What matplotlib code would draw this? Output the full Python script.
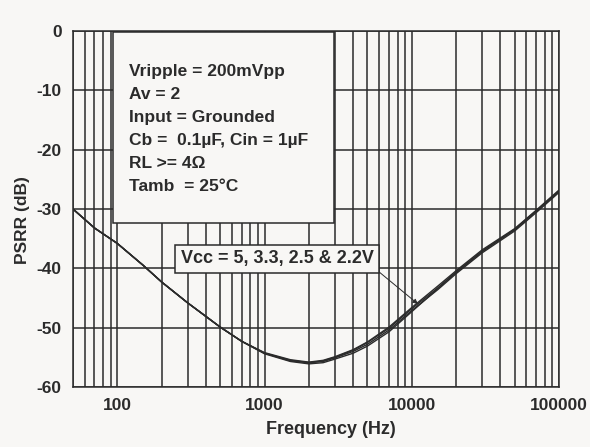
import numpy as np
import matplotlib.pyplot as plt
from matplotlib.patches import Rectangle

# PSRR vs frequency
freq = [50, 70, 100, 150, 200, 300, 500, 700, 1000, 1500, 2000, 2500,
        3000, 4000, 5000, 7000, 10000, 15000, 20000, 30000, 50000, 70000, 100000]
psrr_5v = [-30.0, -33.2, -35.8, -39.5, -42.3, -45.8, -49.9, -52.3, -54.3, -55.5, -55.9, -55.7,
           -55.1, -54.0, -52.8, -50.4, -47.1, -43.6, -40.9, -37.4, -33.7, -30.6, -27.2]
psrr_33v = [-30.0, -33.2, -35.8, -39.5, -42.3, -45.8, -49.9, -52.3, -54.4, -55.7, -56.1, -55.9,
            -55.3, -54.3, -53.1, -50.7, -47.3, -43.4, -40.7, -37.2, -33.5, -30.4, -27.0]
psrr_25v = [-30.0, -33.2, -35.8, -39.5, -42.3, -45.8, -49.9, -52.3, -54.3, -55.6, -55.9, -55.6,
            -55.0, -53.8, -52.5, -50.1, -46.8, -43.3, -40.6, -37.1, -33.4, -30.3, -26.9]
psrr_22v = [-30.0, -33.2, -35.8, -39.5, -42.3, -45.8, -49.9, -52.3, -54.2, -55.4, -55.8, -55.5,
            -54.9, -53.7, -52.4, -49.9, -46.6, -43.0, -40.4, -36.9, -33.3, -30.2, -26.8]

conditions = ["Vripple = 200mVpp", "Av = 2", "Input = Grounded",
              "Cb =  0.1\u00b5F, Cin = 1\u00b5F", "RL >= 4\u03a9", "Tamb  = 25\u00b0C"]
vcc_label = "Vcc = 5, 3.3, 2.5 & 2.2V"

bg = '#f8f7f5'
ink = '#2b2b2b'
plt.rcParams['font.family'] = ['Liberation Sans', 'DejaVu Sans']
plt.rcParams['axes.unicode_minus'] = False

fig = plt.figure(figsize=(5.9, 4.47), dpi=100, facecolor=bg)
ax = fig.add_axes([0.1237, 0.1342, 0.8238, 0.7964], facecolor=bg)

for y in (psrr_5v, psrr_33v, psrr_25v, psrr_22v):
    ax.semilogx(freq, y, '-', color=ink, lw=1.0, zorder=3)

ax.set_xlim(50, 100000)
ax.set_ylim(-60, 0)
ax.set_yticks(np.arange(-60, 1, 10))
ax.set_xticks([100, 1000, 10000, 100000])
ax.set_xticklabels(['100', '1000', '10000', '100000'])
ax.grid(True, which='both', axis='x', color=ink, lw=1.1)
ax.grid(True, which='major', axis='y', color=ink, lw=1.1)
ax.tick_params(which='both', length=0, labelsize=12.5, pad=8, colors=ink)
for lab in ax.get_xticklabels() + ax.get_yticklabels():
    lab.set_fontweight('bold')
for s in ax.spines.values():
    s.set_color(ink)
    s.set_linewidth(1.1)

ax.set_xlabel('Frequency (Hz)', fontsize=13, fontweight='bold', color=ink)
ax.xaxis.set_label_coords(0.53, -0.095)
ax.set_ylabel('PSRR (dB)', fontsize=12.5, fontweight='bold', color=ink)
ax.yaxis.set_label_coords(-0.088, 0.47)

# conditions box
ax.add_patch(Rectangle((0.082, 0.461), 0.455, 0.536, transform=ax.transAxes,
                       facecolor=bg, edgecolor=ink, lw=1.1, zorder=4))
for i, t in enumerate(conditions):
    ax.text(0.115, 0.885 - i * 0.0645, t, transform=ax.transAxes, fontsize=12.5,
            fontweight='bold', va='center', ha='left', color=ink, zorder=5)

# supply label with pointer
ax.annotate(vcc_label, xy=(11000, -46.0), xytext=(0.42, 0.36),
            textcoords='axes fraction', fontsize=13, fontweight='bold',
            ha='center', va='center', color=ink,
            bbox=dict(boxstyle='square,pad=0.3', fc=bg, ec=ink, lw=1.1),
            arrowprops=dict(arrowstyle='-|>', color=ink, lw=0.7, mutation_scale=7,
                            shrinkA=0, shrinkB=0, relpos=(1.0, 0.0)),
            zorder=5)

fig.savefig('out.png', dpi=100, facecolor=bg)
